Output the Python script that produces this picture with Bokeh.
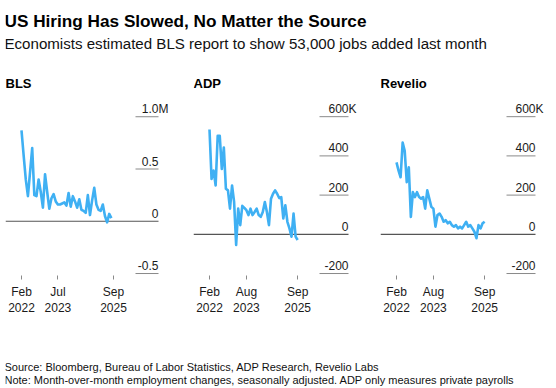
import pandas as pd
from bokeh.plotting import figure
from bokeh.layouts import column, row
from bokeh.models import Label, FixedTicker, Range1d
from bokeh.embed import file_html
from bokeh.resources import INLINE
from bokeh.core.properties import value

# ---------------- data ----------------
TITLE = "US Hiring Has Slowed, No Matter the Source"
SUBTITLE = "Economists estimated BLS report to show 53,000 jobs added last month"
SOURCE = "Source: Bloomberg, Bureau of Labor Statistics, ADP Research, Revelio Labs"
NOTE = "Note: Month-over-month employment changes, seasonally adjusted. ADP only measures private payrolls"

START_MONTH = "2022-02"

# BLS: Feb 2022 - Aug 2025, millions
BLS = [0.87, 0.63, 0.40, 0.24, 0.47, 0.70, 0.25, 0.24, 0.40, 0.28,
       0.13, 0.45, 0.28, 0.12, 0.22, 0.26, 0.19, 0.16, 0.16, 0.17,
       0.18, 0.15, 0.27, 0.14, 0.24, 0.19, 0.13, 0.21, 0.11, 0.10,
       0.08, 0.25, 0.06, 0.20, 0.32, 0.16, 0.11, 0.10, 0.16, 0.05,
       -0.01, 0.07, 0.03]
# ADP: Feb 2022 - Sep 2025, thousands
ADP = [535, 283, 325, 249, 502, 502, 333, 443, 232, 224,
       131, 249, 165, -54, 131, 47, 145, 135, 123, 98,
       131, 98, 114, 131, 98, 89, 114, 165, 114, 47,
       182, 207, 224, 207, 185, 190, 81, 148, 64, 30,
       -12, 106, -12, -29]
# Revelio: Feb 2022 - Sep 2025, thousands
REVELIO = [367, 325, 291, 468, 426, 266, 342, 89, 215, 190,
           215, 190, 182, 190, 131, 224, 182, 140, 131, 39,
           98, 106, 89, 64, 72, 56, 64, 47, 39, 47,
           30, 39, 30, 47, 64, 39, 47, 30, 13, -20,
           47, 30, 56, 64]

BLS_XTICKS = ["2022-02", "2023-07", "2025-09"]
ADP_XTICKS = ["2022-02", "2023-08", "2025-09"]
REV_XTICKS = ["2022-02", "2023-08", "2025-09"]

BLS_YTICKS = [-0.5, 0, 0.5, 1.0]
BLS_YLABELS = ["-0.5", "0", "0.5", "1.0"]
BLS_UNIT = "M"
K_YTICKS = [-200, 0, 200, 400, 600]
K_YLABELS = ["-200", "0", "200", "400", "600"]
K_UNIT = "K"

# ---------------- styling ----------------
FONT = "Liberation Sans"
LINE_COLOR = "#3fb0f3"
ZERO_COLOR = "#555555"
GRID_COLOR = "#8a8a8a"
TEXT_COLOR = "#1a1a1a"


def month_index(s):
    d = pd.Timestamp(s)
    s0 = pd.Timestamp(START_MONTH)
    return (d.year - s0.year) * 12 + (d.month - s0.month)


def tick_label(s):
    d = pd.Timestamp(s)
    return d.strftime("%b") + "\n" + d.strftime("%Y")


PANEL_H = 256
BOTTOM_BORDER = 41
FRAME_H = PANEL_H - BOTTOM_BORDER  # 215


def make_panel(name, values, xticks, yticks, ylabels, unit, width,
               ppm, x0_px, grid_px, px_per_unit):
    # x scale: month index -> pixels
    x_start = -x0_px / ppm
    x_end = x_start + width / ppm
    g0 = x_start + grid_px[0] / ppm
    g1 = x_start + grid_px[1] / ppm
    # y scale: lowest tick sits 2px above frame bottom
    ylow = yticks[0]
    y_start = ylow - 2 / px_per_unit
    y_end = y_start + FRAME_H / px_per_unit

    p = figure(width=width, height=PANEL_H, output_backend="svg",
               toolbar_location=None, min_border=0,
               min_border_bottom=BOTTOM_BORDER,
               x_range=Range1d(x_start, x_end), y_range=Range1d(y_start, y_end),
               y_axis_location=None)
    p.outline_line_color = None
    p.grid.grid_line_color = None
    p.background_fill_color = "white"
    p.border_fill_color = "white"

    xs = list(range(len(values)))
    # grid segments
    others = [t for t in yticks if t != 0]
    p.segment(x0=[g0] * len(others), x1=[g1] * len(others), y0=others, y1=others,
              line_color=GRID_COLOR, line_width=1)
    p.segment(x0=[x_start], x1=[g1], y0=[0], y1=[0], line_color=ZERO_COLOR, line_width=1.2)

    p.line(xs, values, line_color=LINE_COLOR, line_width=2.6, line_join="round")

    # tick labels above the grid segments
    p.text(x=[g1] * len(yticks), y=yticks, text=ylabels, text_align="right",
           text_baseline="alphabetic", y_offset=-8,
           text_font=value(FONT), text_font_size="12px", text_color=TEXT_COLOR)
    p.text(x=[g1], y=[yticks[-1]], text=[unit], text_align="left",
           text_baseline="alphabetic", y_offset=-8,
           text_font=value(FONT), text_font_size="12px", text_color=TEXT_COLOR)

    # x axis
    ax = p.xaxis[0]
    tpos = [month_index(t) for t in xticks]
    ax.ticker = FixedTicker(ticks=tpos)
    ax.major_label_overrides = {tp: tick_label(t) for tp, t in zip(tpos, xticks)}
    ax.axis_line_color = None
    ax.minor_tick_line_color = None
    ax.major_tick_line_color = GRID_COLOR
    ax.major_tick_in = 0
    ax.major_tick_out = 4
    ax.major_label_standoff = 5
    ax.major_label_text_font = FONT
    ax.major_label_text_font_size = "12px"
    ax.major_label_text_color = TEXT_COLOR

    p.add_layout(Label(x=0, y=FRAME_H - 23, x_units="screen", y_units="screen",
                       text=name, text_font=FONT, text_font_size="13px",
                       text_font_style="bold", text_color="#000000",
                       text_baseline="alphabetic"))
    return p


p1 = make_panel("BLS", BLS, BLS_XTICKS, BLS_YTICKS, BLS_YLABELS, BLS_UNIT,
                width=188, ppm=2.14, x0_px=16, grid_px=(130, 153), px_per_unit=105.5)
p2 = make_panel("ADP", ADP, ADP_XTICKS, K_YTICKS, K_YLABELS, K_UNIT,
                width=187, ppm=2.05, x0_px=16, grid_px=(126, 155), px_per_unit=0.19788)
p3 = make_panel("Revelio", REVELIO, REV_XTICKS, K_YTICKS, K_YLABELS, K_UNIT,
                width=165, ppm=2.05, x0_px=16, grid_px=(126, 155), px_per_unit=0.19788)


def text_fig(width, height):
    f = figure(width=width, height=height, output_backend="svg",
               toolbar_location=None, min_border=0,
               x_axis_location=None, y_axis_location=None,
               x_range=Range1d(0, 1), y_range=Range1d(0, 1))
    f.outline_line_color = None
    f.grid.grid_line_color = None
    f.border_fill_color = "white"
    f.background_fill_color = "white"
    return f


header = text_fig(540, 57)
header.add_layout(Label(x=-1, y=41.3, x_units="screen", y_units="screen", text=TITLE,
                        text_font=FONT, text_font_size="17.2px", text_font_style="bold",
                        text_color="#000000", text_baseline="alphabetic"))
header.add_layout(Label(x=-1, y=18.7, x_units="screen", y_units="screen", text=SUBTITLE,
                        text_font=FONT, text_font_size="15.1px",
                        text_color="#111111", text_baseline="alphabetic"))

footer = text_fig(540, 68)
footer.add_layout(Label(x=-1, y=20, x_units="screen", y_units="screen", text=SOURCE,
                        text_font=FONT, text_font_size="11px",
                        text_color="#111111", text_baseline="alphabetic"))
footer.add_layout(Label(x=-1, y=6.5, x_units="screen", y_units="screen", text=NOTE,
                        text_font=FONT, text_font_size="11px",
                        text_color="#111111", text_baseline="alphabetic"))

layout = column(header, row(p1, p2, p3), footer,
                styles={"margin-left": "5px", "margin-top": "5px"})

open("out.html", "w").write(file_html(layout, INLINE))
